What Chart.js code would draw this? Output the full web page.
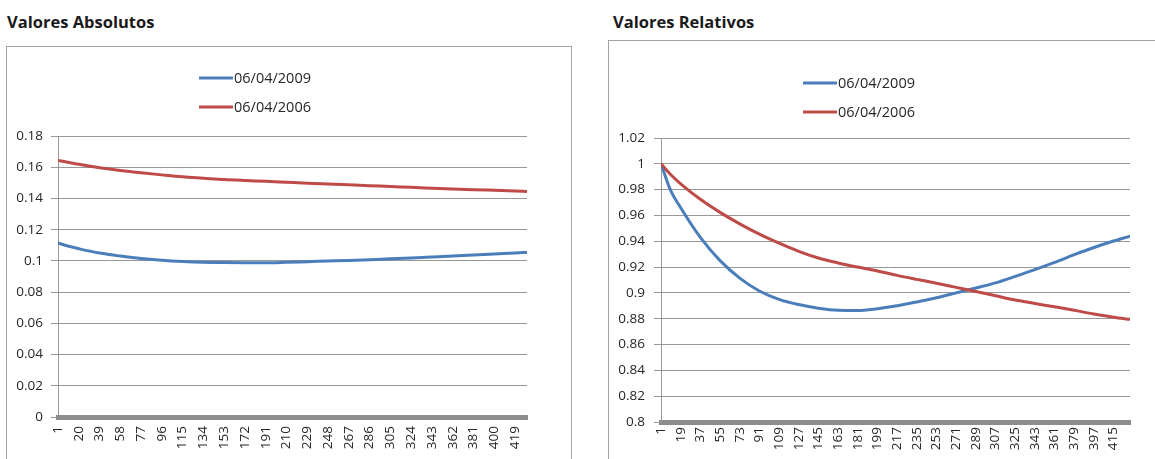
<!DOCTYPE html>
<html lang="pt">
<head>
<meta charset="utf-8">
<title>Valores Absolutos e Relativos</title>
<script src="https://cdn.jsdelivr.net/npm/chart.js@4.4.1/dist/chart.umd.min.js"></script>
<style>
  html, body { margin: 0; padding: 0; background: #fff; width: 1155px; height: 459px; overflow: hidden; }
  .title { position: absolute; font: bold 16.5px "Open Sans", Lato, sans-serif; color: #1a1a1a; white-space: nowrap; line-height: 22px; }
  .frame { position: absolute; border: 1px solid #a3a3a3; box-sizing: border-box; }
  canvas { position: absolute; top: 0; }
</style>
</head>
<body>
<div class="title" style="left:7px;top:11px">Valores Absolutos</div>
<div class="title" style="left:613px;top:11px">Valores Relativos</div>
<div class="frame" style="left:6px;top:46px;width:566px;height:440px"></div>
<div class="frame" style="left:608px;top:40px;width:560px;height:440px"></div>
<canvas id="absChart" width="580" height="459" style="left:0px"></canvas>
<canvas id="relChart" width="565" height="459" style="left:590px"></canvas>
<script>
// ---- Series labels ----
const seriesLabels = ['06/04/2009', '06/04/2006'];

// ---- Valores Absolutos: sample positions (observation number) and values ----
const absIdx = [1, 10, 20, 39, 58, 77, 96, 115, 134, 153, 172, 191, 210, 229, 248, 267, 286, 305, 324, 343, 362, 381, 400, 419, 430];
const abs2009 = [0.1115, 0.1095, 0.1078, 0.1050, 0.1031, 0.1016, 0.1004, 0.0996, 0.0991, 0.0989, 0.0988, 0.0988, 0.0991, 0.0995, 0.0999, 0.1003, 0.1008, 0.1013, 0.1019, 0.1025, 0.1031, 0.1038, 0.1044, 0.1051, 0.1054];
const abs2006 = [0.1644, 0.1632, 0.1619, 0.1597, 0.1579, 0.1564, 0.1551, 0.1539, 0.1530, 0.1521, 0.1515, 0.1510, 0.1504, 0.1498, 0.1493, 0.1488, 0.1482, 0.1477, 0.1471, 0.1466, 0.1461, 0.1456, 0.1452, 0.1448, 0.1445];
const absXTicks = [1, 20, 39, 58, 77, 96, 115, 134, 153, 172, 191, 210, 229, 248, 267, 286, 305, 324, 343, 362, 381, 400, 419];

// ---- Valores Relativos: sample positions and values ----
const relIdx = [1, 10, 19, 37, 55, 73, 91, 109, 127, 145, 163, 181, 199, 217, 235, 253, 271, 289, 307, 325, 343, 361, 379, 397, 415, 430];
const rel2009 = [1.000, 0.979, 0.966, 0.943, 0.925, 0.9115, 0.9015, 0.8950, 0.8910, 0.8882, 0.8866, 0.8864, 0.8878, 0.8900, 0.8930, 0.8962, 0.9000, 0.9038, 0.9078, 0.9128, 0.9180, 0.9236, 0.9296, 0.9352, 0.9402, 0.9440];
const rel2006 = [1.000, 0.9915, 0.9845, 0.9725, 0.9624, 0.9535, 0.9455, 0.9385, 0.9322, 0.9270, 0.9232, 0.9200, 0.9170, 0.9136, 0.9105, 0.9075, 0.9043, 0.9011, 0.8978, 0.8945, 0.8918, 0.8892, 0.8865, 0.8837, 0.8812, 0.8795];
const relXTicks = [1, 19, 37, 55, 73, 91, 109, 127, 145, 163, 181, 199, 217, 235, 253, 271, 289, 307, 325, 343, 361, 379, 397, 415];

const LAST_OBS = 430;
const BLUE = '#4a7ebb';
const RED = '#be4b48';
const GRID = '#979797';
const TEXT = '#262626';
const FONT = '"Open Sans", Lato, sans-serif';
const TICK_SIZE = 13.5;

// Two-row legend drawn in the space above the plot area
const stackedLegend = {
  id: 'stackedLegend',
  afterDraw(chart, args, opts) {
    const ctx = chart.ctx;
    ctx.save();
    ctx.font = `${opts.fontSize}px ${FONT}`;
    ctx.fillStyle = TEXT;
    ctx.textBaseline = 'alphabetic';
    ctx.textAlign = 'left';
    chart.data.datasets.forEach((ds, i) => {
      const y = opts.y + i * opts.rowGap;
      ctx.strokeStyle = ds.borderColor;
      ctx.lineWidth = 3;
      ctx.beginPath();
      ctx.moveTo(opts.x, y);
      ctx.lineTo(opts.x + opts.lineLen, y);
      ctx.stroke();
      ctx.fillText(ds.label, opts.x + opts.lineLen + 1, y + 5.2);
    });
    ctx.restore();
  }
};

function toPoints(idx, vals) {
  return idx.map((x, i) => ({ x, y: vals[i] }));
}

function buildChart(canvasId, spec) {
  return new Chart(document.getElementById(canvasId), {
    type: 'line',
    data: {
      datasets: [
        { label: seriesLabels[0], data: toPoints(spec.idx, spec.s2009), borderColor: BLUE, order: 1 },
        { label: seriesLabels[1], data: toPoints(spec.idx, spec.s2006), borderColor: RED, order: 0 }
      ]
    },
    options: {
      responsive: false,
      animation: false,
      events: [],
      layout: { padding: spec.padding },
      elements: {
        point: { radius: 0, hoverRadius: 0 },
        line: { borderWidth: 3, cubicInterpolationMode: 'monotone', fill: false, borderJoinStyle: 'round' }
      },
      plugins: {
        legend: { display: false },
        tooltip: { enabled: false },
        stackedLegend: spec.legend
      },
      scales: {
        x: {
          type: 'linear',
          min: 1,
          max: LAST_OBS,
          afterBuildTicks: (scale) => { scale.ticks = spec.xTicks.map(v => ({ value: v })); },
          afterFit: (scale) => { scale.height = spec.xHeight; },
          grid: { display: false, drawTicks: false },
          border: { display: true, color: '#8c8c8c', width: 5 },
          ticks: {
            autoSkip: false,
            minRotation: 90,
            maxRotation: 90,
            padding: spec.xPad,
            color: TEXT,
            font: { family: FONT, size: TICK_SIZE },
            callback: (v) => String(v)
          }
        },
        y: {
          min: spec.yMin,
          max: spec.yMax,
          afterFit: (scale) => { scale.width = spec.yWidth; },
          grid: { color: GRID, lineWidth: 1, drawTicks: true, tickLength: 7, tickColor: GRID },
          border: { display: true, color: GRID, width: 1 },
          ticks: {
            stepSize: 0.02,
            padding: spec.yPad,
            color: TEXT,
            font: { family: FONT, size: TICK_SIZE },
            callback: (v) => String(parseFloat(Number(v).toFixed(2)))
          }
        }
      }
    },
    plugins: [stackedLegend]
  });
}

function drawAll() {
  buildChart('absChart', {
    idx: absIdx, s2009: abs2009, s2006: abs2006, xTicks: absXTicks,
    yMin: 0, yMax: 0.18,
    padding: { left: 0, top: 136, right: 53, bottom: 0 },
    yWidth: 58, xHeight: 42, xPad: 9, yPad: 8,
    legend: { x: 199, y: 78, rowGap: 29, lineLen: 34, fontSize: 14.5 }
  });
  buildChart('relChart', {
    idx: relIdx, s2009: rel2009, s2006: rel2006, xTicks: relXTicks,
    yMin: 0.8, yMax: 1.02,
    padding: { left: 0, top: 138, right: 25, bottom: 0 },
    yWidth: 71, xHeight: 37, xPad: 5, yPad: 9,
    legend: { x: 213, y: 83, rowGap: 29, lineLen: 34, fontSize: 14.5 }
  });
}

if (document.fonts && document.fonts.load) {
  Promise.all([
    document.fonts.load('13px "Open Sans"'),
    document.fonts.load('bold 16px "Open Sans"')
  ]).then(drawAll, drawAll);
} else {
  drawAll();
}
</script>
</body>
</html>
